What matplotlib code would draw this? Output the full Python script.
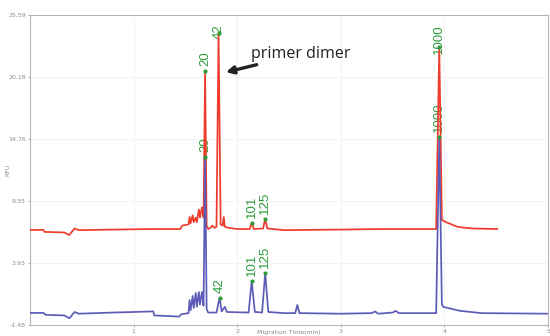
import numpy as np
import matplotlib
matplotlib.use("Agg")
import matplotlib.pyplot as plt

# red trace (sample with primer dimer): migration time (min) / RFU
red_t = [0.00, 0.13, 0.14, 0.33, 0.38, 0.43, 0.47, 0.80, 1.20, 1.45, 1.47, 1.53,
         1.54, 1.55, 1.57, 1.58, 1.60, 1.61, 1.63, 1.64, 1.66, 1.675, 1.69, 1.705,
         1.72, 1.74, 1.76, 1.78, 1.80, 1.82, 1.84, 1.86, 1.87, 1.88, 1.92, 2.00,
         2.12, 2.14, 2.16, 2.25, 2.27, 2.29, 2.45, 3.00, 3.40, 3.92, 3.95, 3.975,
         4.01, 4.13, 4.26, 4.51]
red_rfu = [6.82, 6.82, 6.65, 6.60, 6.38, 6.95, 6.80, 6.85, 6.90, 6.90, 7.20, 7.30,
           7.95, 7.40, 8.10, 7.50, 7.90, 7.50, 8.60, 7.90, 8.80, 7.90, 20.70, 7.20,
           6.90, 7.00, 7.20, 7.00, 7.10, 24.00, 7.30, 7.20, 7.95, 7.10, 7.00, 6.90,
           6.90, 7.45, 6.90, 6.95, 7.80, 6.95, 6.80, 6.85, 6.90, 6.90, 22.80, 7.70,
           7.52, 7.08, 6.95, 6.90]

# blue trace (clean sample)
blue_t = [0.00, 0.13, 0.15, 0.33, 0.38, 0.43, 0.47, 0.80, 1.00, 1.19, 1.20, 1.44,
          1.46, 1.53, 1.54, 1.55, 1.57, 1.58, 1.60, 1.61, 1.63, 1.64, 1.66, 1.675,
          1.69, 1.705, 1.72, 1.80, 1.83, 1.85, 1.88, 1.90, 2.11, 2.14, 2.17, 2.24,
          2.27, 2.30, 2.45, 2.56, 2.58, 2.60, 3.00, 3.30, 3.33, 3.36, 3.50, 3.53,
          3.56, 3.92, 3.95, 3.975, 3.99, 4.15, 4.36, 5.00]
blue_rfu = [-0.43, -0.43, -0.60, -0.65, -0.90, -0.35, -0.50, -0.40, -0.35, -0.30,
            -0.65, -0.75, -0.55, -0.45, 0.70, -0.20, 1.05, 0.00, 1.31, 0.10, 1.40,
            0.30, 1.40, 0.20, 13.20, -0.10, -0.40, -0.40, 0.90, -0.30, 0.10, -0.35,
            -0.40, 2.36, -0.35, -0.40, 3.06, -0.35, -0.45, -0.45, 0.27, -0.45, -0.50,
            -0.45, -0.30, -0.50, -0.40, -0.25, -0.45, -0.45, 14.94, 0.30, 0.09,
            -0.25, -0.45, -0.50]

# sized fragments (bp) and their migration times
red_sizes = ["20", "42", "101", "125", "1000"]
red_size_t = [1.69, 1.82, 2.14, 2.27, 3.95]
blue_sizes = ["20", "42", "101", "125", "1000"]
blue_size_t = [1.69, 1.83, 2.14, 2.27, 3.95]

y_min, y_max = -1.48, 25.59
y_ticks = np.linspace(y_min, y_max, 6)
x_ticks = [1, 2, 3, 4, 5]

RED = "#ef3b2c"
BLUE = "#5c5cb8"
GREEN = "#2f9d3c"

fig = plt.figure(figsize=(5.5, 3.36), dpi=100)
ax = fig.add_axes([0.0545, 0.033, 0.942, 0.922])

ax.plot(red_t, red_rfu, color=RED, lw=1.25, zorder=3)
ax.plot(blue_t, blue_rfu, color=BLUE, lw=1.25, zorder=4)


def size_labels(times, sizes, tt, rr):
    tt = np.asarray(tt)
    rr = np.asarray(rr)
    for t, s in zip(times, sizes):
        near = np.abs(tt - t) < 0.012
        top = rr[near].max()
        ax.plot(t, top, "o", color=GREEN, ms=2, zorder=5)
        # keep the label inside the frame
        if top + 0.45 + 0.65 * len(s) > 24.8:
            y, va = 24.8, "top"
        else:
            y, va = top + 0.45, "bottom"
        ax.text(t, y, s, rotation=90, ha="center", va=va, color=GREEN,
                fontsize=9.5, family="Liberation Sans", zorder=2)


size_labels(red_size_t, red_sizes, red_t, red_rfu)
size_labels(blue_size_t, blue_sizes, blue_t, blue_rfu)

ax.annotate("primer dimer", xy=(1.89, 20.6), xytext=(2.135, 22.2),
            fontsize=11.5, family="Open Sans", color="#222222", va="center",
            arrowprops=dict(arrowstyle="-|>", color="#222222", lw=2.4,
                            mutation_scale=11, shrinkA=0, shrinkB=0))

ax.set_xlim(0, 5)
ax.set_ylim(y_min, y_max)
ax.set_xticks(x_ticks)
ax.set_yticks(y_ticks)
ax.set_yticklabels([f"{v:.2f}" for v in y_ticks])
ax.tick_params(labelsize=4.5, colors="#8a8a8a", length=1.5, width=0.5, pad=1.5)
ax.grid(color="#f1f1f1", lw=0.6)
ax.set_axisbelow(True)
for sp in ax.spines.values():
    sp.set_color("#b5b5b5")
    sp.set_linewidth(0.8)

ax.set_xlabel("Migration Time(min)", fontsize=4.5, color="#8a8a8a")
ax.xaxis.set_label_coords(0.5, -0.017)
ax.set_ylabel("RFU", fontsize=4.5, color="#8a8a8a")
ax.yaxis.set_label_coords(-0.037, 0.5)

fig.savefig("out.png", dpi=100)
